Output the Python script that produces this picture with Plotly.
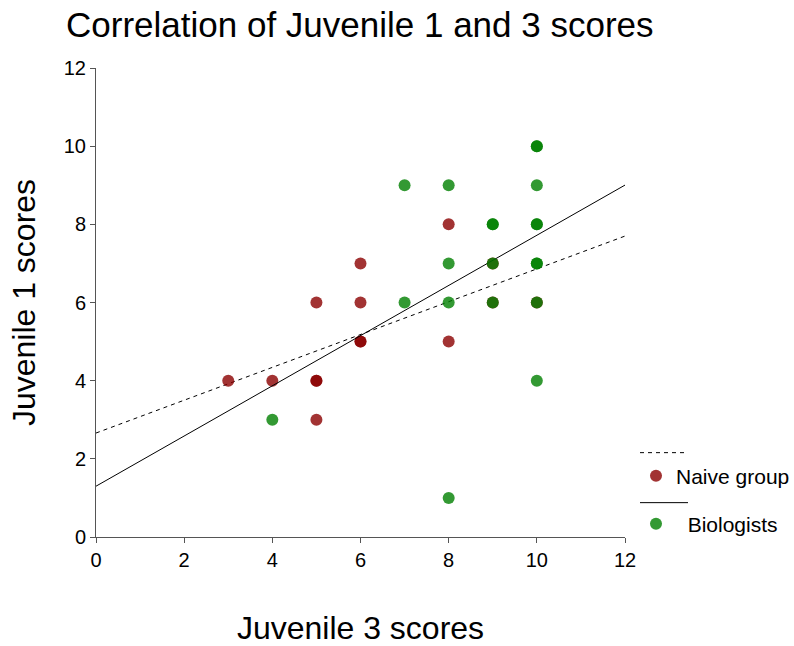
import numpy as np
import plotly.graph_objects as go

# Juvenile 3 (x) and Juvenile 1 (y) scores per participant
naive_j3 = [3, 4, 5, 5, 5, 5, 6, 6, 6, 6, 8, 8, 9, 9, 10]
naive_j1 = [4, 4, 6, 4, 4, 3, 7, 6, 5, 5, 8, 5, 7, 6, 6]

bio_j3 = [4, 7, 7, 8, 8, 8, 8, 9, 9, 9, 9, 10, 10, 10, 10, 10, 10, 10, 10, 10]
bio_j1 = [3, 9, 6, 9, 7, 6, 1, 8, 8, 7, 6, 10, 10, 9, 8, 8, 7, 7, 6, 4]

# Linear regression lines (intercept, slope)
naive_fit = (2.66, 0.42)
bio_fit = (1.30, 0.642)

x_range = [0, 12]
tick_vals = [0, 2, 4, 6, 8, 10, 12]

FONT = "Liberation Sans, Arial, sans-serif"

# plot area in pixels
W, H = 794, 646
L, R, T, B = 96, 169, 68, 109
PW, PH = W - L - R, H - T - B


def px_x(p):
    return (p - L) / PW


def px_y(p):
    return (H - B - p) / PH


xs = np.array(x_range, dtype=float)

fig = go.Figure()

fig.add_trace(go.Scatter(
    x=xs, y=naive_fit[0] + naive_fit[1] * xs, mode="lines",
    line=dict(color="black", width=1, dash="4px,4px"), name=" ",
    hoverinfo="skip", legend="legend",
))
fig.add_trace(go.Scatter(
    x=naive_j3, y=naive_j1, mode="markers", name="Naive group",
    marker=dict(size=12, color="rgba(139,0,0,0.8)", line=dict(width=0)),
    legend="legend2",
))
fig.add_trace(go.Scatter(
    x=xs, y=bio_fit[0] + bio_fit[1] * xs, mode="lines",
    line=dict(color="black", width=1), name=" ",
    hoverinfo="skip", legend="legend3",
))
fig.add_trace(go.Scatter(
    x=bio_j3, y=bio_j1, mode="markers", name="  Biologists",
    marker=dict(size=12, color="rgba(0,128,0,0.8)", line=dict(width=0)),
    legend="legend4",
))

axis_common = dict(
    range=x_range, tickvals=tick_vals, showgrid=False, zeroline=False,
    showline=True, linecolor="#555555", linewidth=1,
    ticks="outside", ticklen=5, tickcolor="#555555",
    tickfont=dict(family=FONT, size=20, color="black"),
    automargin=False,
)


def legend_box(x_px, y_px, itemwidth):
    return dict(
        x=px_x(x_px), xanchor="left", y=px_y(y_px), yanchor="middle",
        font=dict(family=FONT, size=21, color="black"),
        itemwidth=itemwidth, bgcolor="rgba(0,0,0,0)", borderwidth=0,
    )


fig.update_layout(
    width=W, height=H,
    margin=dict(l=L, r=R, t=T, b=B, autoexpand=False),
    paper_bgcolor="white", plot_bgcolor="white",
    title=dict(
        text="Correlation of Juvenile 1 and 3 scores",
        font=dict(family=FONT, size=35, color="black"),
        x=66 / W, xanchor="left", y=1 - 25 / H, yanchor="middle",
    ),
    xaxis=dict(
        **axis_common,
        title=dict(text="Juvenile 3 scores", standoff=50,
                   font=dict(family=FONT, size=32, color="black")),
    ),
    yaxis=dict(
        **axis_common,
        title=dict(text="Juvenile 1 scores", standoff=18,
                   font=dict(family=FONT, size=32, color="black")),
    ),
    legend=legend_box(635, 453, 48),
    legend2=legend_box(636, 476, 30),
    legend3=legend_box(635, 503, 48),
    legend4=legend_box(636, 524, 30),
    showlegend=True,
)

fig.write_html("out.html")
